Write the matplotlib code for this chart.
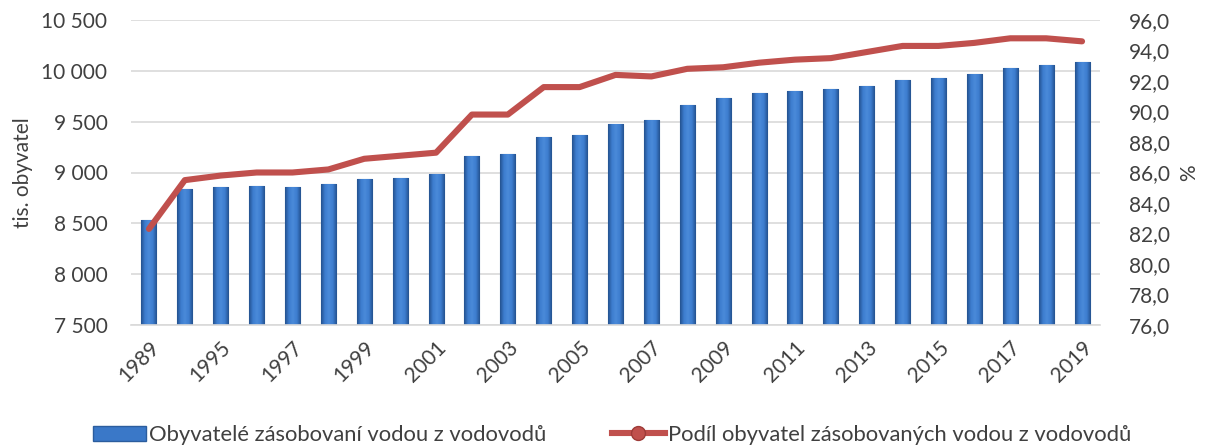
import numpy as np
import matplotlib.pyplot as plt
from matplotlib.lines import Line2D
from matplotlib.patches import Patch
from matplotlib.colors import LinearSegmentedColormap

plt.rcParams['font.family'] = ['Lato', 'DejaVu Sans']

years = ['1989'] + [str(y) for y in range(1994, 2020)]
obyvatele = [8533, 8834, 8861, 8870, 8857, 8884, 8939, 8949, 8982, 9159,
             9179, 9346, 9372, 9477, 9520, 9664, 9733, 9782, 9805, 9821,
             9851, 9910, 9930, 9969, 10028, 10057, 10087]
podil = [82.3, 85.5, 85.8, 86.0, 86.0, 86.2, 86.9, 87.1, 87.3, 89.8,
         89.8, 91.6, 91.6, 92.4, 92.3, 92.8, 92.9, 93.2, 93.4, 93.5,
         93.9, 94.3, 94.3, 94.5, 94.8, 94.8, 94.6]

label_bars = "Obyvatelé zásobovaní vodou z vodovodů"
label_line = "Podíl obyvatel zásobovaných vodou z vodovodů"

txt = '#404040'
fs = 15

fig = plt.figure(figsize=(12.05, 4.47), dpi=100)
ax = fig.add_axes([131 / 1205, 1 - 325 / 447, 969 / 1205, 305 / 447])
x = np.arange(len(years))

bars = ax.bar(x, obyvatele, width=0.42, color='#3471C0', edgecolor='#2B5D9E',
              linewidth=0.8, zorder=2)
# bevel-like horizontal gradient inside each bar
cmap = LinearSegmentedColormap.from_list('bev', ['#24528F', '#3D7DCF', '#4A8AD9', '#3D7DCF', '#24528F'])
grad = np.linspace(0, 1, 64).reshape(1, -1)
for b in bars:
    x0, w, h = b.get_x(), b.get_width(), b.get_height()
    im = ax.imshow(grad, cmap=cmap, aspect='auto', zorder=2.5,
                   extent=(x0, x0 + w, 7500, b.get_y() + h))
    im.set_clip_path(b)

ax.set_ylim(7500, 10500)
ax.set_yticks(range(7500, 10501, 500))
ax.set_yticklabels([f"{v:,}".replace(",", " ") for v in range(7500, 10501, 500)])
ax.set_xlim(-0.5, len(years) - 0.5)
ax.set_xticks(x[::2])
ax.set_xticklabels(years[::2], rotation=45, ha='right', rotation_mode='anchor',
                   fontsize=fs, color=txt)
ax.grid(axis='y', color='#D9D9D9', linewidth=1.2, zorder=0)
ax.set_axisbelow(True)
for s in ['top', 'left', 'right']:
    ax.spines[s].set_visible(False)
ax.spines['bottom'].set_color('#D9D9D9')
ax.spines['bottom'].set_linewidth(1.2)
ax.tick_params(length=0, labelsize=fs, labelcolor=txt, pad=17)
ax.tick_params(axis='x', pad=9)
ax.set_ylabel("tis. obyvatel", fontsize=fs, color=txt, labelpad=6)

ax2 = ax.twinx()
ax2.plot(x, podil, color='#C0504D', linewidth=4.4, solid_capstyle='round', zorder=3)
ax2.set_ylim(76, 96)
ax2.set_yticks(np.arange(76, 96.1, 2))
ax2.set_yticklabels([f"{v:.1f}".replace(".", ",") for v in np.arange(76, 96.1, 2)])
for s in ['top', 'left', 'right', 'bottom']:
    ax2.spines[s].set_visible(False)
ax2.tick_params(length=0, labelsize=fs, labelcolor=txt, pad=21)
ax2.set_ylabel("%", fontsize=fs, color=txt, labelpad=6)

handles = [Patch(facecolor='#3A78C8', edgecolor='#2B5D9E', label=label_bars),
           Line2D([0], [0], color='#C0504D', linewidth=4.4, marker='o',
                  markersize=10, markerfacecolor='#C0504D',
                  markeredgecolor='#9E3B38', label=label_line)]
fig.legend(handles=handles, loc='center', bbox_to_anchor=(0.508, 0.027),
           ncol=2, frameon=False, fontsize=15.8, handlelength=2.4,
           handleheight=0.7, handletextpad=0.15, columnspacing=3.0,
           labelcolor=txt)

fig.savefig("out.png", dpi=100)
